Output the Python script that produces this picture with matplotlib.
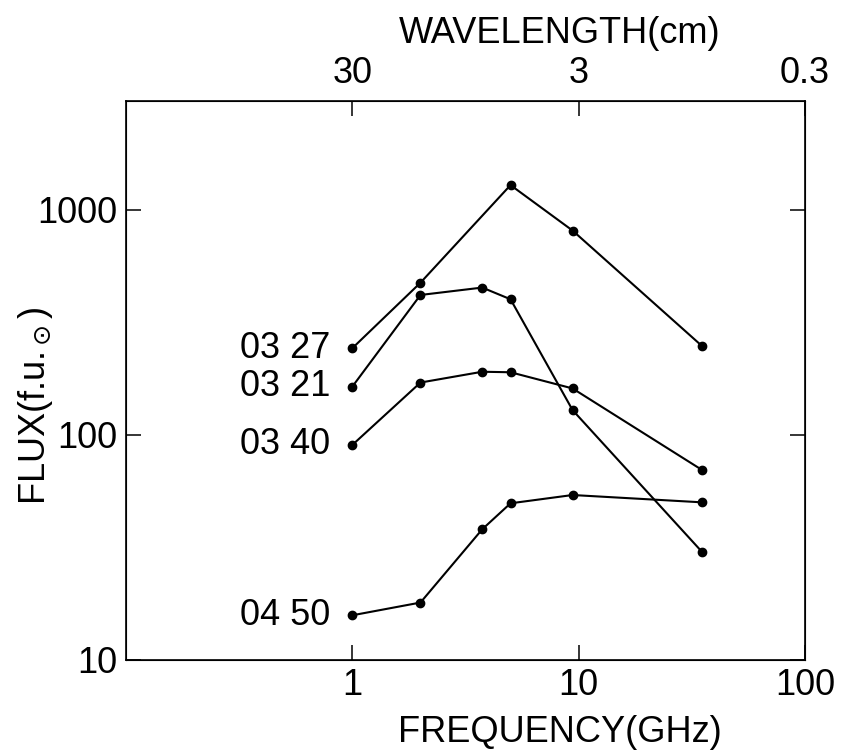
import numpy as np
import matplotlib
matplotlib.use('Agg')
import matplotlib.pyplot as plt

# radio spectra of the burst at four times (flux in solar flux units)
freq = [1.0, 2.0, 3.75, 5.0, 9.4, 35.0]
freq_0327 = [1.0, 2.0, 5.0, 9.4, 35.0]
flux_0327 = [243, 475, 1290, 810, 249]
flux_0321 = [164, 419, 452, 401, 129, 30.3]
flux_0340 = [90.3, 171, 191, 190, 161, 70]
flux_0450 = [15.8, 18.0, 38.1, 49.7, 54.1, 50.2]

times = ['03 27', '03 21', '03 40', '04 50']
freq_ticks = [1, 10, 100]
wave_labels = ['30', '3', '0.3']

plt.rcParams['font.family'] = ['Liberation Sans', 'DejaVu Sans']
plt.rcParams['font.size'] = 26

fig = plt.figure(figsize=(8.41, 7.56), dpi=100)
ax = fig.add_axes([0.1498, 0.127, 0.8074, 0.7394])

series = [(freq_0327, flux_0327), (freq, flux_0321), (freq, flux_0340), (freq, flux_0450)]
for (f, s), name in zip(series, times):
    ax.plot(f, s, color='black', lw=1.5, marker='o', ms=6)
    ax.annotate(name, (f[0], s[0]), xytext=(-16, 0), textcoords='offset points',
                ha='right', va='center')

ax.set_xscale('log')
ax.set_yscale('log')
ax.set_xlim(0.1, 100)
ax.set_ylim(10, 3050)

ax.set_xticks(freq_ticks)
ax.set_xticklabels(['1', '10', '100'])
ax.set_yticks([10, 100, 1000])
ax.set_yticklabels(['10', '100', '1000'])
ax.minorticks_off()
ax.tick_params(direction='in', length=11, width=1.1, top=False, right=True)
ax.tick_params(axis='x', pad=6)
ax.tick_params(axis='y', pad=6)
for sp in ax.spines.values():
    sp.set_linewidth(1.2)

ax.set_xlabel('FREQUENCY(GHz)')
ax.xaxis.set_label_coords(0.639, -0.098)
ax.set_ylabel('FLUX(f.u.$_\\odot$)')
ax.yaxis.set_label_coords(-0.105, 0.456)

# wavelength scale on top
top = ax.twiny()
top.set_xscale('log')
top.set_xlim(ax.get_xlim())
top.set_xticks(freq_ticks)
top.set_xticklabels(wave_labels)
top.minorticks_off()
top.tick_params(direction='in', length=11, width=1.1, pad=7)
top.set_xlabel('WAVELENGTH(cm)')
top.xaxis.set_label_coords(0.638, 1.103)

fig.savefig('out.png', dpi=100)
